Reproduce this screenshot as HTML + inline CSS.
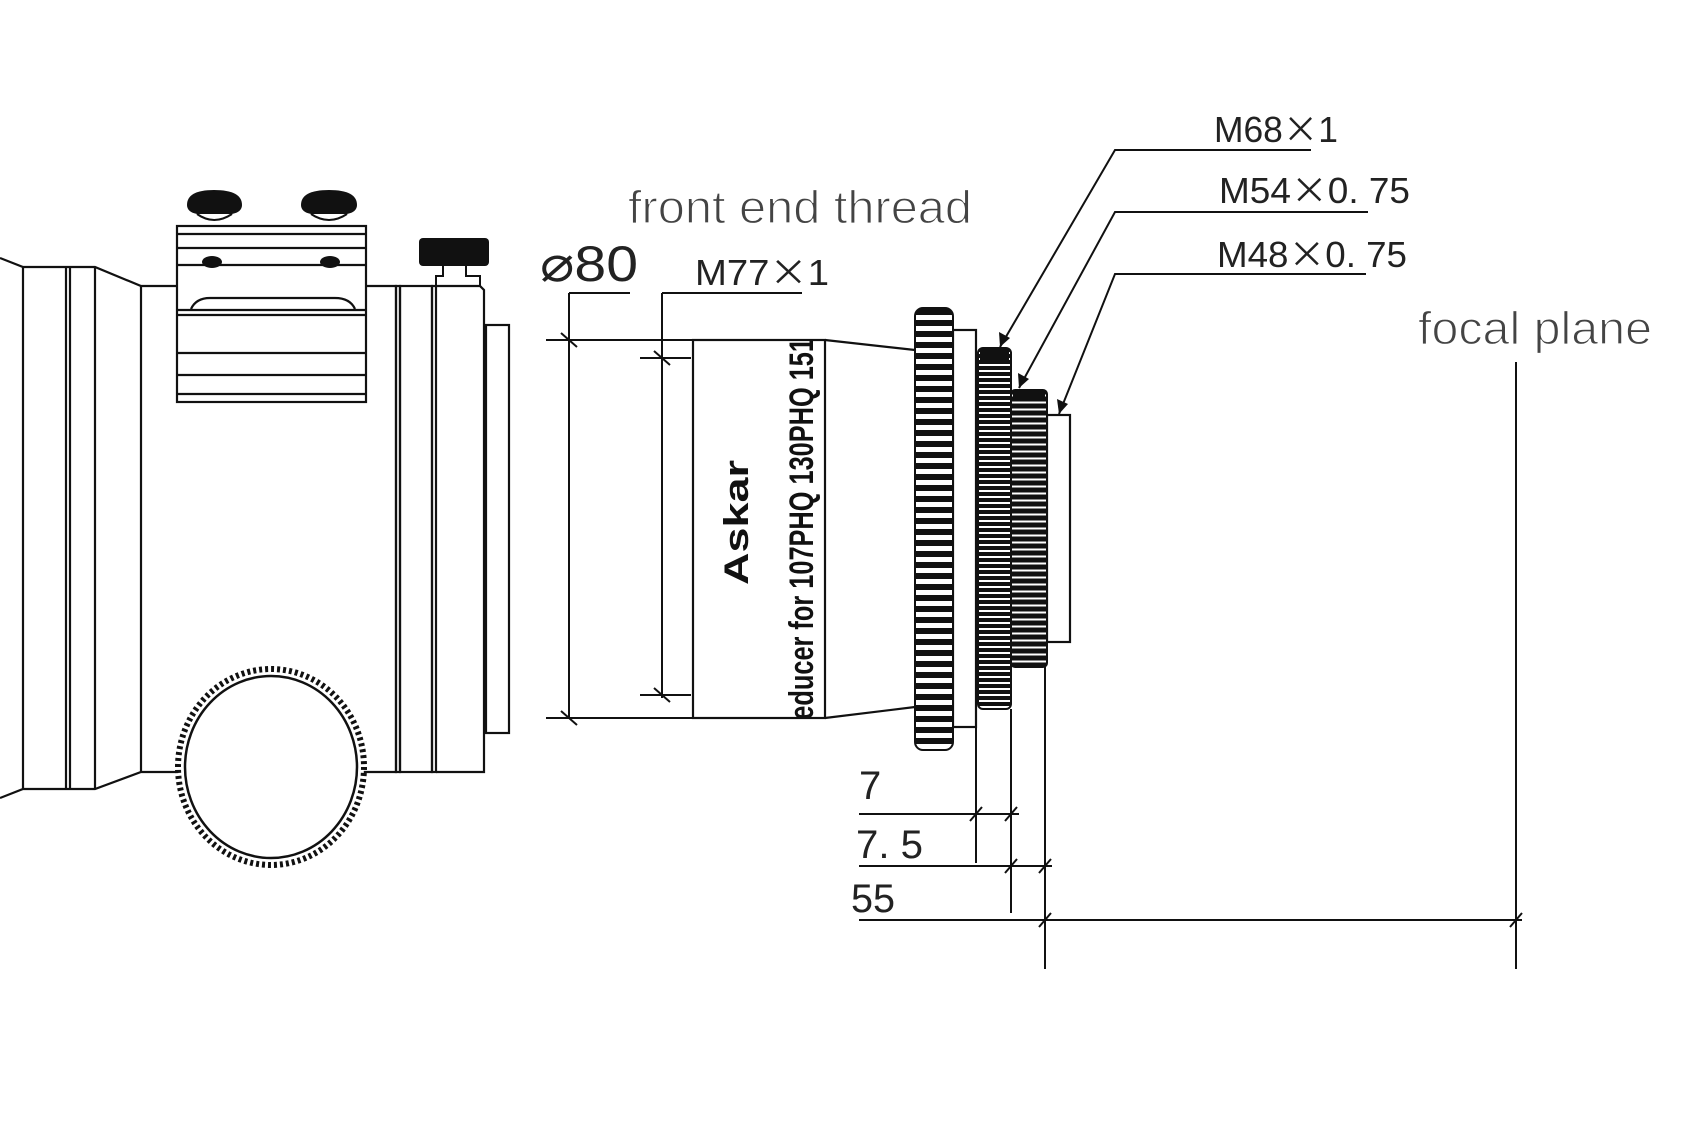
<!DOCTYPE html>
<html><head><meta charset="utf-8"><style>html,body{margin:0;padding:0;background:#fff}svg{display:block}</style></head>
<body>
<svg width="1703" height="1139" viewBox="0 0 1703 1139" xmlns="http://www.w3.org/2000/svg">
<defs>
<pattern id="k1" x="0" y="312" width="40" height="11" patternUnits="userSpaceOnUse"><rect width="40" height="11" fill="#111"/><rect x="0" y="3" width="40" height="5" fill="#fff"/></pattern>
<pattern id="k2" x="0" y="350" width="40" height="6" patternUnits="userSpaceOnUse"><rect width="40" height="6" fill="#111"/><rect x="0" y="2" width="40" height="2" fill="#fff"/></pattern>
<pattern id="k3" x="0" y="392" width="40" height="7" patternUnits="userSpaceOnUse"><rect width="40" height="7" fill="#111"/><rect x="0" y="2.5" width="40" height="2" fill="#fff"/></pattern>
</defs>
<g fill="none" stroke="#111" stroke-width="2.2">
<path d="M0 258 L23 267 L95 267 L141 286 L396 286 L396 772 L141 772 L95 789 L23 789 L0 798"/>
<line x1="23" y1="267" x2="23" y2="789"/>
<line x1="66" y1="267" x2="66" y2="789"/>
<line x1="70" y1="267" x2="70" y2="789"/>
<line x1="95" y1="267" x2="95" y2="789"/>
<line x1="141" y1="286" x2="141" y2="772"/>
<rect x="396" y="286" width="4" height="486"/>
<rect x="400" y="286" width="32" height="486"/>
<rect x="432" y="286" width="4" height="486"/>
<path d="M436 286 L480 286 L484 290 L484 772 L436 772"/>
<rect x="486" y="325" width="23" height="408"/>
<rect x="177" y="226" width="189" height="176" fill="#fff"/>
<line x1="177" y1="234" x2="366" y2="234"/>
<line x1="177" y1="248" x2="366" y2="248"/>
<line x1="177" y1="265" x2="366" y2="265"/>
<path d="M191 309 Q196 298 210 298 L335 298 Q350 298 355 309"/>
<line x1="177" y1="310" x2="366" y2="310"/>
<line x1="177" y1="315" x2="366" y2="315"/>
<line x1="177" y1="353" x2="366" y2="353"/>
<line x1="177" y1="375" x2="366" y2="375"/>
<line x1="177" y1="394" x2="366" y2="394"/>
<ellipse cx="271" cy="767" rx="93" ry="98" stroke-width="6" stroke-dasharray="3 3" fill="#fff"/>
<ellipse cx="271" cy="767" rx="86" ry="91" stroke-width="2.5"/>
</g>
<g fill="#111">
<path d="M187 205 Q187 190 214 190 Q242 190 242 205 Q242 212 232 214 L197 214 Q187 212 187 205Z"/>
<path d="M301 205 Q301 190 329 190 Q357 190 357 205 Q357 212 347 214 L311 214 Q301 212 301 205Z"/>
<rect x="419" y="238" width="70" height="28" rx="4"/>
<ellipse cx="212" cy="262" rx="10" ry="6"/>
<ellipse cx="330" cy="262" rx="10" ry="6"/>
</g>
<g fill="none" stroke="#111" stroke-width="2">
<path d="M197 214 Q214 226 232 214"/><path d="M311 214 Q329 226 347 214"/>
<path d="M443 266 L443 276 L436 276 L436 286 M466 266 L466 276 L480 276 L480 286"/>
</g>
<g fill="none" stroke="#111" stroke-width="2.2">
<rect x="693" y="340" width="132" height="378" fill="#fff"/>
<path d="M825 340 L915 350 M825 718 L915 707"/>
<rect x="953" y="330" width="23" height="397" fill="#fff"/>
<rect x="1047" y="415" width="23" height="227"/>
</g>
<rect x="915" y="308" width="38" height="442" rx="8" fill="url(#k1)" stroke="#111" stroke-width="2"/>
<rect x="978" y="348" width="33" height="361" rx="5" fill="url(#k2)" stroke="#111" stroke-width="2"/>
<rect x="1011" y="390" width="36" height="277" rx="4" fill="url(#k3)" stroke="#111" stroke-width="2"/>
<rect x="980" y="348" width="29" height="12" fill="#111"/><rect x="1013" y="390" width="32" height="10" fill="#111"/>
<g font-family="Liberation Sans, sans-serif" font-weight="bold" fill="#111">
<text transform="translate(748,585) rotate(-90)" font-size="34" textLength="125" lengthAdjust="spacingAndGlyphs">Askar</text>
<svg x="780" y="340" width="45" height="378" overflow="hidden">
<text transform="translate(33,398) rotate(-90)" font-size="34" textLength="400" lengthAdjust="spacingAndGlyphs">Reducer for 107PHQ 130PHQ 151</text>
</svg>
</g>
<g fill="none" stroke="#111" stroke-width="2">
<path d="M546 340 L693 340 M546 718 L693 718 M569 293 L569 718 M569 293 L630 293"/>
<path d="M561 333 L577 347 M561 711 L577 725"/>
<path d="M640 358 L691 358 M640 695 L691 695 M662 293 L662 698 M662 293 L802 293"/>
<path d="M654 351 L670 365 M654 688 L670 702"/>
<path d="M1311 150 L1115 150 L1000 347 M1368 212 L1115 212 L1019 388 M1366 274 L1115 274 L1059 414"/>
<path d="M1516 362 L1516 969"/>
<path d="M976 727 L976 863 M1011 709 L1011 913 M1045 667 L1045 969"/>
<path d="M859 814 L1019 814 M859 866 L1052 866 M859 920 L1522 920"/>
<path d="M970 821 L982 807 M1005 821 L1017 807 M1005 873 L1017 859 M1039 873 L1051 859 M1039 927 L1051 913 M1510 927 L1522 913"/>
</g>
<g fill="#111">
<path d="M1000 347 L999 332 L1010 338Z"/>
<path d="M1019 388 L1018 373 L1029 379Z"/>
<path d="M1059 414 L1057 399 L1068 404Z"/>
</g>
<g fill="#222" font-family="Liberation Sans, 'Noto Sans CJK SC', sans-serif">
<text x="628" y="223" font-size="46" textLength="344" lengthAdjust="spacingAndGlyphs" fill="#444" stroke="#fff" stroke-width="1.2">front end thread</text>
<text x="1418" y="344" font-size="46" textLength="234" lengthAdjust="spacingAndGlyphs" fill="#444" stroke="#fff" stroke-width="1.2">focal plane</text>
<text x="540" y="281" font-size="50" textLength="98" lengthAdjust="spacingAndGlyphs">⌀80</text>
<text x="695" y="285" font-size="36" textLength="134" lengthAdjust="spacingAndGlyphs">M77<tspan font-family="'Noto Sans CJK SC', sans-serif">×</tspan>1</text>
<text x="1214" y="142" font-size="36" textLength="124" lengthAdjust="spacingAndGlyphs">M68<tspan font-family="'Noto Sans CJK SC', sans-serif">×</tspan>1</text>
<text x="1219" y="203" font-size="36" textLength="191" lengthAdjust="spacingAndGlyphs">M54<tspan font-family="'Noto Sans CJK SC', sans-serif">×</tspan>0. 75</text>
<text x="1217" y="267" font-size="36" textLength="190" lengthAdjust="spacingAndGlyphs">M48<tspan font-family="'Noto Sans CJK SC', sans-serif">×</tspan>0. 75</text>
<text x="859" y="799" font-size="40">7</text>
<text x="856" y="858" font-size="40" textLength="67" lengthAdjust="spacingAndGlyphs">7. 5</text>
<text x="851" y="912" font-size="40" textLength="44" lengthAdjust="spacingAndGlyphs">55</text>
</g>
</svg>
</body></html>
